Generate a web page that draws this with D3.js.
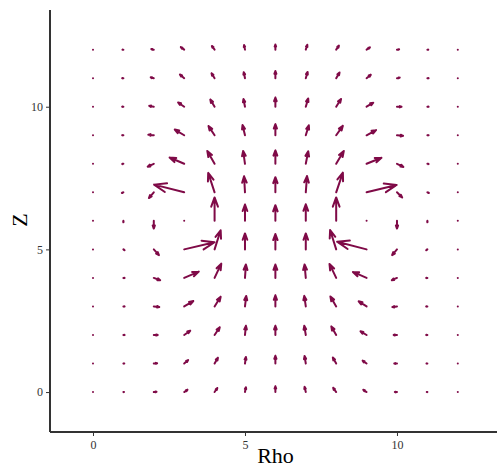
<!DOCTYPE html>
<html>
<head>
<meta charset="utf-8">
<script src="https://cdn.jsdelivr.net/npm/d3@7"></script>
<style>
  html, body { margin: 0; padding: 0; background: #fff; }
  svg { display: block; }
</style>
</head>
<body>
<svg id="chart" width="498" height="468"></svg>
<script>
// ---- data ----
const rhoValues = [0,1,2,3,4,5,6,7,8,9,10,11,12];
const zValues   = [0,1,2,3,4,5,6,7,8,9,10,11,12];
// U[zIndex][rhoIndex] = rho component, V = z component (data units)
const U = [
  [0, 0.02, 0.09, 0.11, 0.09, 0.03, 0, -0.04, -0.10, -0.11, -0.07, -0.02, 0],
  [0, 0.03, 0.11, 0.13, 0.11, 0.03, 0, -0.04, -0.11, -0.13, -0.09, -0.03, 0],
  [0, 0.04, 0.13, 0.20, 0.17, 0.03, 0, -0.05, -0.16, -0.20, -0.11, -0.04, 0],
  [0, 0.04, 0.18, 0.30, 0.20, 0.04, 0, -0.05, -0.19, -0.26, -0.15, -0.04, 0],
  [0, 0.04, 0.21, 0.48, 0.22, 0.03, 0, -0.04, -0.22, -0.45, -0.17, -0.04, 0],
  [0, 0.04, 0.17, 1.00, 0.20, 0.00, 0, 0.00, -0.20, -0.97, -0.16, -0.04, 0],
  [0, 0.00, 0.00, 0.00, 0.00, 0.00, 0, 0.00, 0.00, 0.00, 0.00, 0.00, 0],
  [0, -0.05, -0.16, -0.99, -0.21, -0.03, 0, 0.04, 0.22, 0.99, 0.17, 0.05, 0],
  [0, -0.04, -0.20, -0.48, -0.24, -0.06, 0, 0.08, 0.25, 0.49, 0.21, 0.04, 0],
  [0, -0.04, -0.18, -0.31, -0.20, -0.08, 0, 0.10, 0.22, 0.31, 0.20, 0.04, 0],
  [0, -0.04, -0.15, -0.20, -0.14, -0.05, 0, 0.08, 0.16, 0.22, 0.15, 0.04, 0],
  [0, -0.04, -0.10, -0.14, -0.10, -0.04, 0, 0.06, 0.11, 0.14, 0.09, 0.04, 0],
  [0, -0.03, -0.08, -0.11, -0.09, -0.03, 0, 0.05, 0.09, 0.11, 0.07, 0.03, 0]
];
const V = [
  [0, 0, 0.01, 0.08, 0.14, 0.17, 0.20, 0.18, 0.15, 0.08, 0, 0, 0],
  [0, 0, 0.01, 0.12, 0.20, 0.23, 0.27, 0.26, 0.21, 0.10, 0, 0, 0],
  [0, 0, 0.00, 0.15, 0.27, 0.32, 0.32, 0.32, 0.30, 0.13, 0, 0, 0],
  [0, 0, -0.02, 0.19, 0.34, 0.37, 0.39, 0.37, 0.35, 0.18, -0.02, 0, 0],
  [0, 0, -0.08, 0.22, 0.50, 0.47, 0.47, 0.47, 0.49, 0.21, -0.08, 0, 0],
  [0, -0.03, -0.20, 0.25, 0.67, 0.56, 0.54, 0.56, 0.68, 0.27, -0.20, -0.03, 0],
  [0, -0.05, -0.27, 0.00, 0.82, 0.57, 0.55, 0.58, 0.82, 0.00, -0.27, -0.05, 0],
  [0, -0.02, -0.20, 0.27, 0.68, 0.56, 0.53, 0.57, 0.69, 0.26, -0.18, -0.02, 0],
  [0, -0.01, -0.10, 0.22, 0.45, 0.45, 0.47, 0.44, 0.45, 0.21, -0.11, -0.01, 0],
  [0, 0, 0.02, 0.20, 0.32, 0.36, 0.39, 0.35, 0.33, 0.18, -0.02, 0, 0],
  [0, 0, 0.03, 0.15, 0.25, 0.27, 0.32, 0.29, 0.27, 0.14, 0.00, 0, 0],
  [0, 0, 0.03, 0.13, 0.17, 0.21, 0.25, 0.22, 0.20, 0.12, 0.02, 0, 0],
  [0, 0, 0.02, 0.09, 0.13, 0.16, 0.18, 0.17, 0.14, 0.08, 0.01, 0, 0]
];
const xTicks = [0, 5, 10];
const yTicks = [0, 5, 10];
const xTitle = "Rho";
const yTitle = "Z";

// ---- drawing ----
const svg = d3.select("#chart");
const x = d3.scaleLinear().domain([-1.414, 13.29]).range([50, 497]);
const y = d3.scaleLinear().domain([-1.40, 13.39]).range([432, 10]);
const color = "#7f0a47";
const serif = "'Liberation Serif', 'Times New Roman', 'DejaVu Serif', serif";

const field = [];
zValues.forEach((z, j) => rhoValues.forEach((r, i) => field.push({r, z, u: U[j][i], v: V[j][i]})));

const arrowPath = d => {
  const x0 = x(d.r), y0 = y(d.z);
  const x1 = x(d.r + d.u), y1 = y(d.z + d.v);
  const dx = x1 - x0, dy = y1 - y0;
  const L = Math.hypot(dx, dy);
  if (L < 0.5) return `M${x0},${y0}L${x0 + 0.01},${y0}`;
  const ang = Math.atan2(dy, dx);
  const h = 0.42 * L, a = 20 * Math.PI / 180;
  const b1x = x1 - h * Math.cos(ang - a), b1y = y1 - h * Math.sin(ang - a);
  const b2x = x1 - h * Math.cos(ang + a), b2y = y1 - h * Math.sin(ang + a);
  return `M${x0},${y0}L${x1},${y1}M${b1x},${b1y}L${x1},${y1}L${b2x},${b2y}`;
};

svg.append("g").selectAll("path").data(field).join("path")
  .attr("d", arrowPath)
  .attr("fill", "none")
  .attr("stroke", color)
  .attr("stroke-width", 2)
  .attr("stroke-linecap", "round")
  .attr("stroke-linejoin", "round");

// axes
const xAxis = d3.axisBottom(x).tickValues(xTicks).tickSize(4).tickPadding(4).tickFormat(d3.format("d"));
const yAxis = d3.axisLeft(y).tickValues(yTicks).tickSize(4).tickPadding(3).tickFormat(d3.format("d"));

const gx = svg.append("g").attr("transform", "translate(0,432)").call(xAxis);
const gy = svg.append("g").attr("transform", "translate(50,0)").call(yAxis);
[gx, gy].forEach(g => {
  g.select(".domain").attr("stroke", "#333").attr("stroke-width", 2);
  g.selectAll(".tick line").attr("stroke", "#333").attr("stroke-width", 1);
  g.selectAll(".tick text").attr("fill", "#333")
    .style("font-family", serif).style("font-size", "12px");
});
gx.select(".domain").attr("d", "M50,0H497");
gy.select(".domain").attr("d", "M0,432V10");

svg.append("text")
  .attr("x", 275.5).attr("y", 463)
  .attr("text-anchor", "middle")
  .style("font-family", serif)
  .style("font-size", "22px")
  .attr("fill", "#000")
  .text(xTitle);

svg.append("text")
  .attr("transform", "translate(27,220) rotate(-90)")
  .attr("text-anchor", "middle")
  .style("font-family", serif)
  .style("font-size", "22px")
  .attr("fill", "#000")
  .text(yTitle);
</script>
</body>
</html>
